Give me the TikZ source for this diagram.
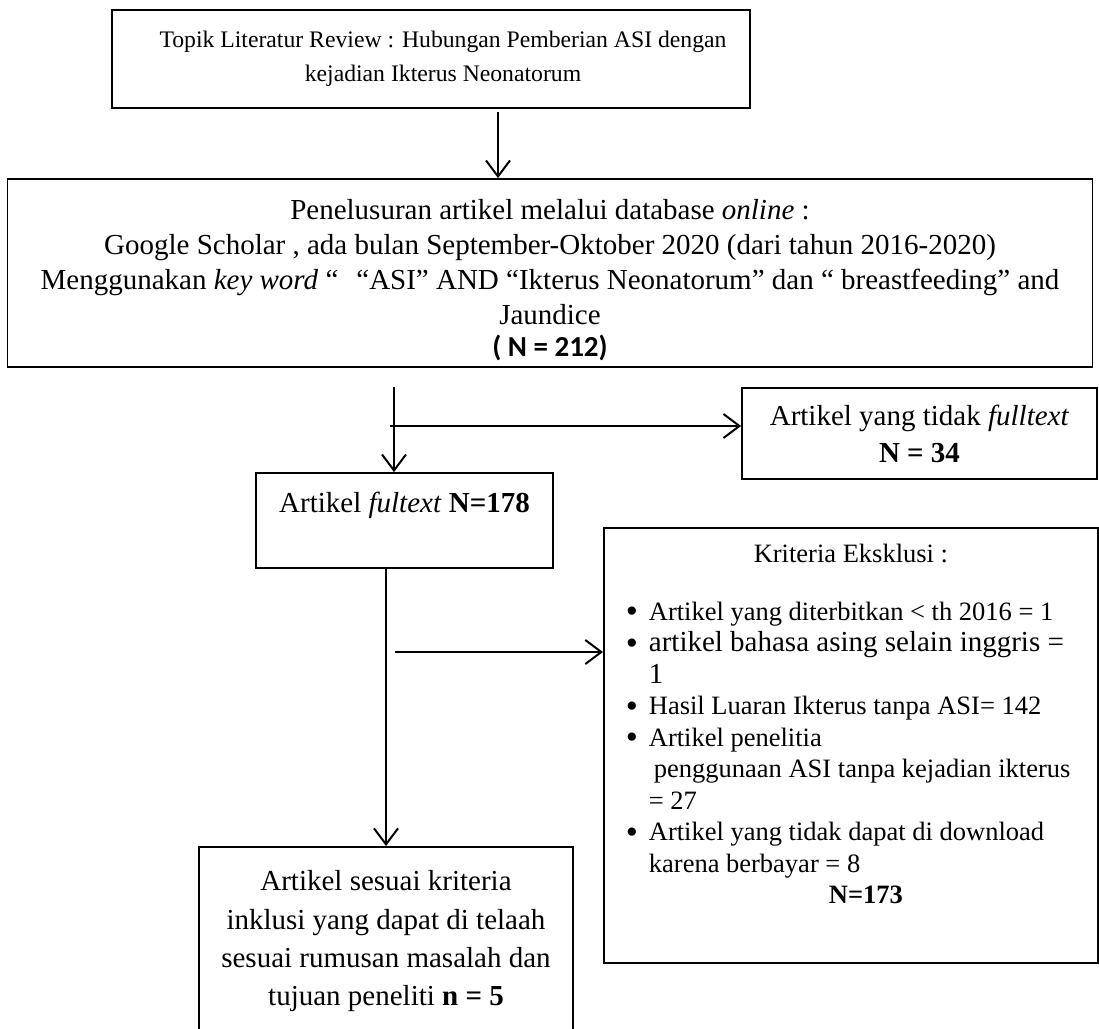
\documentclass[tikz,border=0pt]{standalone}
\usepackage{fontspec}
\setmainfont{Liberation Serif}
\newfontfamily\calibrifont{Carlito}
\usetikzlibrary{arrows.meta, positioning, calc}

\newcommand{\fsa}{\fontsize{23.7pt}{34pt}\selectfont}
\newcommand{\fsb}{\fontsize{29pt}{35pt}\selectfont}
\newcommand{\fsc}{\fontsize{29pt}{37pt}\selectfont}
\newcommand{\fsd}{\fontsize{26.5pt}{31.5pt}\selectfont}
\newcommand{\fse}{\fontsize{29pt}{38.3pt}\selectfont}
\newcommand{\bul}{\hspace*{22pt}\makebox[23pt][l]{\raisebox{-2.5pt}{\scalebox{1.3}{\textbullet}}}}

\begin{document}
\begin{tikzpicture}[x=1pt, y=-1pt,
    box/.style={draw, line width=1.8pt, inner sep=0pt, align=center},
    arr/.style={line width=2pt, -{Straight Barb[length=16pt, width=24pt]}}]
    \useasboundingbox (0,0) rectangle (1099,1028);
    \clip (0,0) rectangle (1099,1028);

    % Boxes
    \node[box, font=\fsa, minimum width=638pt, minimum height=98pt] (topik) at (431,59)
        {\hspace*{24pt}Topik Literatur Review : Hubungan Pemberian ASI dengan\\
         \hspace*{24pt}kejadian Ikterus Neonatorum};
    \node[box, font=\fsb, minimum width=1085pt, minimum height=188pt] (cari) at (550,273)
        {\rule{0pt}{34pt}Penelusuran artikel melalui database \textit{online} :\\
         Google Scholar , ada bulan September-Oktober 2020 (dari tahun 2016-2020)\\
         Menggunakan \textit{key word} “\hspace{18pt}“ASI” AND “Ikterus Neonatorum” dan “ breastfeeding” and\\
         Jaundice\\[-3pt]
         {\calibrifont\bfseries\fontsize{29pt}{32pt}\selectfont ( N = 212)}};
    \node[box, font=\fsc, minimum width=297pt, minimum height=95pt] (fultext) at (404.5,520.5)
        {Artikel \textit{fultext} \textbf{N=178}\\ \mbox{}};
    \node[box, font=\fsc, minimum width=355pt, minimum height=91pt] (nofull) at (919.5,433.5)
        {Artikel yang tidak \textit{fulltext}\\ \textbf{N = 34}};
    \node[box, anchor=north west] (eksklusi) at (603,527)
        {\parbox[t][435pt][t]{494pt}{\fsd
         {\centering\rule{0pt}{35pt}Kriteria Eksklusi :\par}
         \vspace{26pt}
         \raggedright
         \bul Artikel yang diterbitkan < th 2016 = 1\\
         \bul {\fontsize{29pt}{31.5pt}\selectfont artikel bahasa asing selain inggris =}\\
         \hspace*{45pt}{\fontsize{29pt}{31.5pt}\selectfont 1}\\
         \bul Hasil Luaran Ikterus tanpa ASI= 142\\
         \bul Artikel penelitia\\
         \hspace*{50pt}penggunaan ASI tanpa kejadian ikterus\\
         \hspace*{45pt}= 27\\
         \bul Artikel yang tidak dapat di download\\
         \hspace*{45pt}karena berbayar = 8\\
         \makebox[494pt]{\hspace{30pt}\textbf{N=173}}}};
    \node[box, anchor=north] (hasil) at (386,846)
        {\parbox[t][200pt][t]{374pt}{\fse\centering
         \rule{0pt}{44pt}Artikel sesuai kriteria\\
         inklusi yang dapat di telaah\\
         sesuai rumusan masalah dan\\
         tujuan peneliti \textbf{n = 5}}};

    % Arrows
    \coordinate (a1) at (498,112);
    \draw[arr] (a1) -- (a1 |- cari.north);
    \coordinate (a2) at (394,387);
    \draw[arr] (a2) -- (a2 |- fultext.north);
    \coordinate (split) at (390,426);
    \draw[arr] (split) -- (split -| nofull.west);
    \draw[arr] (hasil.north |- fultext.south) -- (hasil.north);
    \coordinate (split2) at (395,652);
    \draw[arr] (split2) -- (split2 -| eksklusi.west);
\end{tikzpicture}
\end{document}
